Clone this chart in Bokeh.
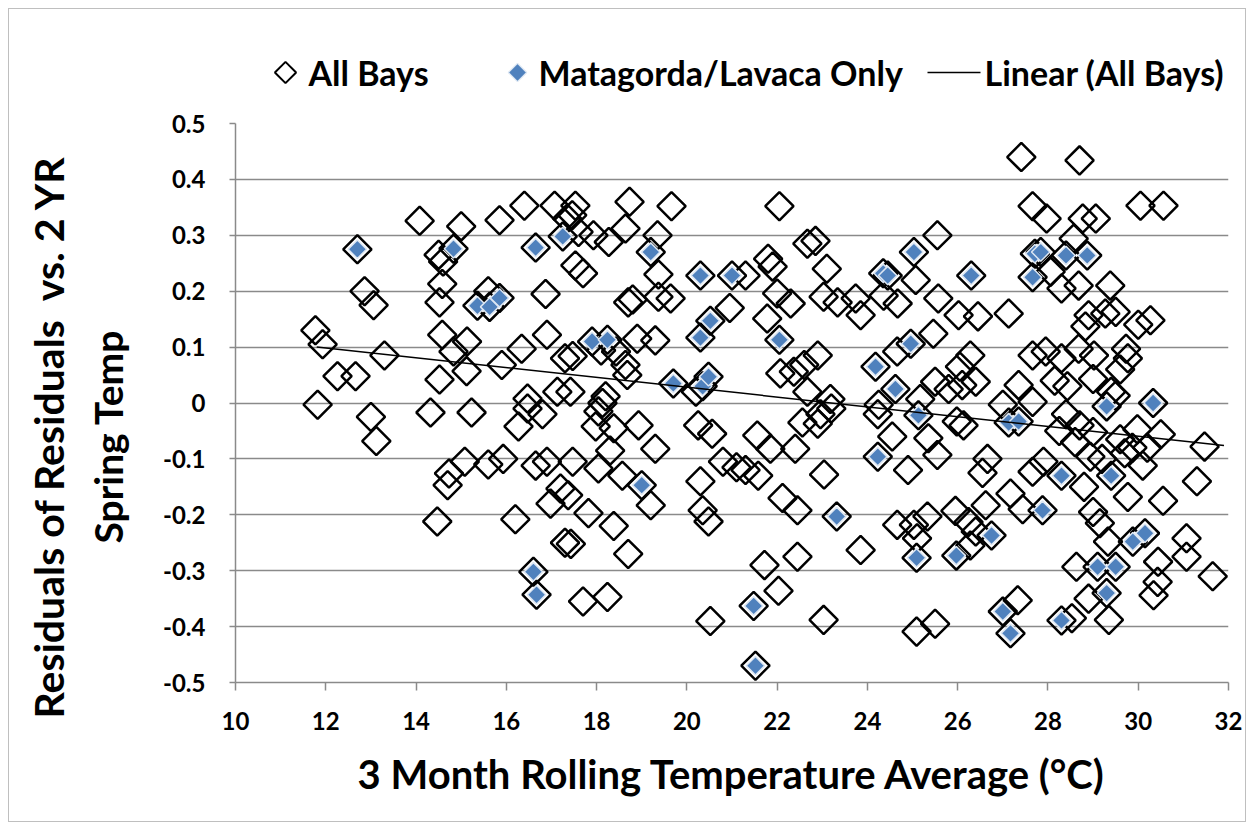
import math
from bokeh.plotting import figure
from bokeh.layouts import column
from bokeh.models import FixedTicker, NumeralTickFormatter, Title
from bokeh.core.properties import value
from bokeh.embed import file_html
from bokeh.resources import INLINE

# ---------------- data ----------------
other_x = [11.77, 11.93, 11.82, 12.26, 12.66, 12.86, 13.06, 13.3, 13.0, 13.12,
           14.08, 15.0, 14.5, 14.6, 14.58, 14.52, 15.85, 16.4, 17.07, 17.35,
           15.6, 16.87, 14.58, 15.13, 14.83, 16.9, 16.34, 15.9, 14.52, 15.12,
           17.3, 16.47, 17.13, 14.32, 15.23, 16.27, 16.47, 16.8, 15.08, 14.73,
           14.7, 15.6, 15.93, 16.65, 16.9, 16.98, 17.2, 14.47, 16.2, 17.3,
           17.53, 18.73, 19.66, 17.46, 17.93, 18.27, 18.64, 17.6, 19.35, 19.37,
           17.53, 17.7, 18.7, 18.8, 19.37, 19.64, 20.95, 17.47, 18.1, 18.43,
           18.9, 19.3, 18.64, 18.68, 17.42, 18.2, 18.13, 18.04, 17.98, 18.38,
           18.93, 19.3, 20.25, 20.56, 20.2, 18.3, 17.47, 18.04, 18.57, 19.2,
           20.3, 20.8, 20.35, 20.48, 17.37, 17.82, 18.38, 17.43, 18.7, 17.7,
           18.24, 20.52, 22.05, 22.67, 22.85, 21.8, 21.9, 23.1, 21.3, 22.0,
           22.3, 23.03, 23.34, 23.74, 23.85, 24.36, 24.67, 21.78, 22.07, 22.37,
           22.6, 22.9, 22.67, 23.18, 24.66, 24.25, 21.56, 21.85, 22.4, 22.56,
           22.9, 22.96, 23.2, 24.23, 24.55, 21.1, 21.3, 21.58, 23.04, 22.12,
           22.45, 24.66, 23.85, 21.72, 22.45, 22.03, 23.03, 27.41, 27.66, 27.97,
           25.55, 25.07, 25.57, 26.02, 26.45, 27.13, 28.06, 28.3, 25.46, 26.28,
           27.66, 27.95, 28.3, 25.17, 25.5, 25.8, 26.1, 26.4, 27.35, 27.66,
           25.35, 25.55, 25.98, 26.13, 27.0, 24.9, 26.66, 26.55, 27.17, 27.44,
           27.66, 25.33, 25.03, 25.1, 25.95, 26.24, 26.4, 26.62, 26.28, 25.09,
           25.5, 27.33, 26.05, 28.7, 30.05, 30.56, 28.77, 29.06, 28.57, 28.68,
           29.38, 28.9, 29.27, 29.5, 30.0, 30.27, 28.83, 28.68, 29.02, 29.73,
           29.77, 28.43, 29.0, 29.5, 31.47, 28.4, 28.7, 29.0, 29.6, 29.98,
           30.5, 29.87, 30.1, 28.94, 28.8, 29.77, 30.55, 31.3, 29.0, 29.15,
           29.33, 31.07, 31.07, 31.65, 28.63, 30.44, 30.34, 30.43, 28.9, 29.35,
           28.53, 28.15, 28.25, 28.6, 29.2, 29.7, 30.2, 29.4, 29.6, 27.9]
other_y = [0.13, 0.105, -0.003, 0.048, 0.048, 0.2, 0.175, 0.085, -0.025, -0.068,
           0.326, 0.316, 0.265, 0.253, 0.213, 0.18, 0.327, 0.353, 0.353, 0.33,
           0.2, 0.195, 0.122, 0.11, 0.092, 0.122, 0.097, 0.068, 0.042, 0.057,
           0.08, 0.008, 0.02, -0.017, -0.017, -0.042, -0.01, -0.02, -0.105, -0.126,
           -0.147, -0.11, -0.1, -0.112, -0.105, -0.18, -0.153, -0.212, -0.208, -0.25,
           0.353, 0.36, 0.352, 0.336, 0.3, 0.288, 0.312, 0.306, 0.3, 0.23,
           0.246, 0.232, 0.18, 0.185, 0.19, 0.187, 0.17, 0.084, 0.094, 0.092,
           0.115, 0.112, 0.068, 0.05, 0.02, 0.012, 0.0, -0.015, -0.042, -0.045,
           -0.04, -0.082, -0.04, -0.055, 0.02, -0.085, -0.105, -0.117, -0.13, -0.183,
           -0.14, -0.105, -0.192, -0.212, -0.165, -0.197, -0.22, -0.252, -0.27, -0.355,
           -0.347, -0.39, 0.352, 0.285, 0.29, 0.258, 0.244, 0.24, 0.228, 0.196,
           0.178, 0.19, 0.18, 0.187, 0.157, 0.192, 0.178, 0.151, 0.053, 0.056,
           0.068, 0.085, 0.02, 0.007, 0.092, -0.003, -0.058, -0.082, -0.082, -0.035,
           -0.037, -0.02, -0.01, -0.02, -0.06, -0.115, -0.12, -0.13, -0.128, -0.17,
           -0.192, -0.218, -0.263, -0.29, -0.275, -0.336, -0.388, 0.44, 0.352, 0.33,
           0.3, 0.22, 0.187, 0.157, 0.155, 0.16, 0.235, 0.205, 0.124, 0.085,
           0.085, 0.092, 0.08, 0.007, 0.038, 0.025, 0.032, 0.038, 0.032, 0.002,
           -0.063, -0.093, -0.033, -0.04, -0.003, -0.12, -0.1, -0.125, -0.162, -0.19,
           -0.123, -0.203, -0.218, -0.242, -0.193, -0.213, -0.23, -0.183, -0.255, -0.409,
           -0.395, -0.353, 0.065, 0.434, 0.353, 0.353, 0.33, 0.33, 0.294, 0.21,
           0.21, 0.157, 0.16, 0.163, 0.14, 0.148, 0.137, 0.097, 0.085, 0.097,
           0.08, 0.03, 0.043, 0.013, -0.078, -0.02, -0.04, -0.052, -0.065, -0.047,
           -0.056, -0.08, -0.112, -0.096, -0.15, -0.168, -0.175, -0.14, -0.195, -0.215,
           -0.248, -0.242, -0.275, -0.31, -0.293, -0.284, -0.344, -0.32, -0.35, -0.388,
           -0.385, 0.04, -0.05, -0.07, -0.1, -0.09, -0.08, 0.02, 0.06, -0.105]

mat_x = [12.7, 14.83, 15.36, 15.63, 15.85, 16.65, 17.25, 16.6, 16.67, 19.2,
         20.3, 21.0, 20.52, 20.3, 17.9, 18.24, 19.7, 20.35, 20.48, 19.0,
         22.05, 24.35, 24.45, 24.18, 24.62, 24.23, 23.32, 21.48, 21.52, 25.03,
         26.3, 27.71, 27.84, 27.66, 24.96, 25.13, 27.13, 27.35, 27.88, 28.3,
         25.09, 25.97, 26.75, 27.0, 27.17, 28.3, 28.4, 28.87, 29.3, 30.33,
         29.4, 29.88, 30.15, 29.1, 29.5, 29.3]
mat_y = [0.275, 0.276, 0.174, 0.172, 0.188, 0.278, 0.298, -0.302, -0.343, 0.27,
         0.228, 0.228, 0.147, 0.117, 0.11, 0.113, 0.035, 0.03, 0.047, -0.147,
         0.113, 0.232, 0.228, 0.065, 0.025, -0.096, -0.203, -0.363, -0.47, 0.27,
         0.228, 0.267, 0.27, 0.225, 0.106, -0.022, -0.035, -0.033, -0.192, -0.13,
         -0.277, -0.273, -0.237, -0.373, -0.412, -0.389, 0.264, 0.264, -0.006, 0.0,
         -0.13, -0.248, -0.233, -0.293, -0.293, -0.34]

trend_x = [11.8, 31.9]
trend_y = [0.100, -0.076]

x_ticks = [10, 12, 14, 16, 18, 20, 22, 24, 26, 28, 30, 32]
x_tick_labels = ["10", "12", "14", "16", "18", "20", "22", "24", "26", "28", "30", "32"]
y_ticks = [-0.5, -0.4, -0.3, -0.2, -0.1, 0.0, 0.1, 0.2, 0.3, 0.4, 0.5]
y_tick_labels = ["-0.5", "-0.4", "-0.3", "-0.2", "-0.1", "0", "0.1", "0.2", "0.3", "0.4", "0.5"]

legend_labels = ["All Bays", "Matagorda/Lavaca Only", "Linear (All Bays)"]

all_x = other_x + mat_x
all_y = other_y + mat_y

FONT = "Lato"
GRID = "#8a8a8a"
BLUE = "#4F81BD"
RING = "#dce6f2"

# ---------------- legend strip (top) ----------------
# its frame lines up with the main plot's frame (993 px wide)
LW, LH, FW = 1236, 96, 993
lf = figure(width=LW, height=LH, x_range=(0, FW), y_range=(0, LH),
            output_backend="svg", toolbar_location=None, min_border=0)
lf.axis.visible = False
lf.grid.visible = False
lf.outline_line_color = None
lf.background_fill_color = "white"
lf.border_fill_color = "white"
ly = LH - 63
lf.scatter([50], [ly], marker="square", size=15, angle=math.pi / 4,
           fill_color=None, line_color="black", line_width=2)
lf.scatter([282], [ly], marker="square", size=13, angle=math.pi / 4,
           fill_color=BLUE, line_color=RING, line_width=1.2)
lf.line([692, 745], [ly, ly], line_color="black", line_width=1.5)
lf.text(x=[73, 303, 749], y=[ly, ly, ly], text=legend_labels,
        text_font=value(FONT), text_font_style="bold", text_font_size="34px",
        text_baseline="middle", text_align="left", text_color="black")

# ---------------- main plot ----------------
p = figure(width=1236, height=716, x_range=(10, 32), y_range=(-0.5, 0.5),
           output_backend="svg", toolbar_location=None,
           min_border_left=226, min_border_right=17, min_border_top=18, min_border_bottom=139)
p.outline_line_color = None
p.background_fill_color = "white"
p.border_fill_color = "white"

p.scatter(all_x, all_y, marker="square", size=20, angle=math.pi / 4,
          fill_color=None, line_color="black", line_width=2.5)
p.scatter(mat_x, mat_y, marker="square", size=13, angle=math.pi / 4,
          fill_color=BLUE, line_color=RING, line_width=1.5)
p.line(trend_x, trend_y, line_color="black", line_width=1.5)

p.xgrid.visible = False
p.ygrid.grid_line_color = GRID
p.ygrid.grid_line_width = 1.5
p.xaxis.ticker = FixedTicker(ticks=x_ticks)
p.yaxis.ticker = FixedTicker(ticks=y_ticks)
p.xaxis.formatter = NumeralTickFormatter(format="0")
p.yaxis.formatter = NumeralTickFormatter(format="0.[0]")
p.xaxis.major_label_overrides = {float(t): l for t, l in zip(x_ticks, x_tick_labels)}
p.yaxis.major_label_overrides = {float(t): l for t, l in zip(y_ticks, y_tick_labels)}
for ax in (p.xaxis, p.yaxis):
    ax.axis_line_color = GRID
    ax.axis_line_width = 1.5
    ax.major_tick_line_color = GRID
    ax.major_tick_line_width = 1.5
    ax.major_tick_in = 0
    ax.minor_tick_line_color = None
    ax.major_label_text_font = FONT
    ax.major_label_text_font_style = "bold"
    ax.major_label_text_font_size = "24px"
    ax.major_label_text_color = "black"
    ax.axis_label_text_font = FONT
    ax.axis_label_text_font_style = "bold"
    ax.axis_label_text_color = "black"
p.xaxis.major_tick_out = 8
p.yaxis.major_tick_out = 6
p.xaxis.major_label_standoff = 21
p.yaxis.major_label_standoff = 24

p.xaxis.axis_label = "3 Month Rolling Temperature Average (°C)"
p.xaxis.axis_label_text_font_size = "40px"
p.xaxis.axis_label_standoff = 17

# y-axis title, two lines (inner line added first); align="left" starts at the frame bottom
p.add_layout(Title(text="Spring Temp", align="left", offset=139, standoff=60,
                   text_font=FONT, text_font_style="bold", text_font_size="39px",
                   text_color="black"), "left")
p.add_layout(Title(text="Residuals of Residuals\u00a0 vs. 2 YR", align="left", offset=-36,
                   standoff=-40, text_font=FONT, text_font_style="bold",
                   text_font_size="41px", text_color="black"), "left")

layout = column(lf, p, spacing=0,
                styles={"border": "1px solid #bfbfbf", "margin-left": "8px", "margin-top": "8px"})

open("out.html", "w").write(file_html(layout, INLINE))
